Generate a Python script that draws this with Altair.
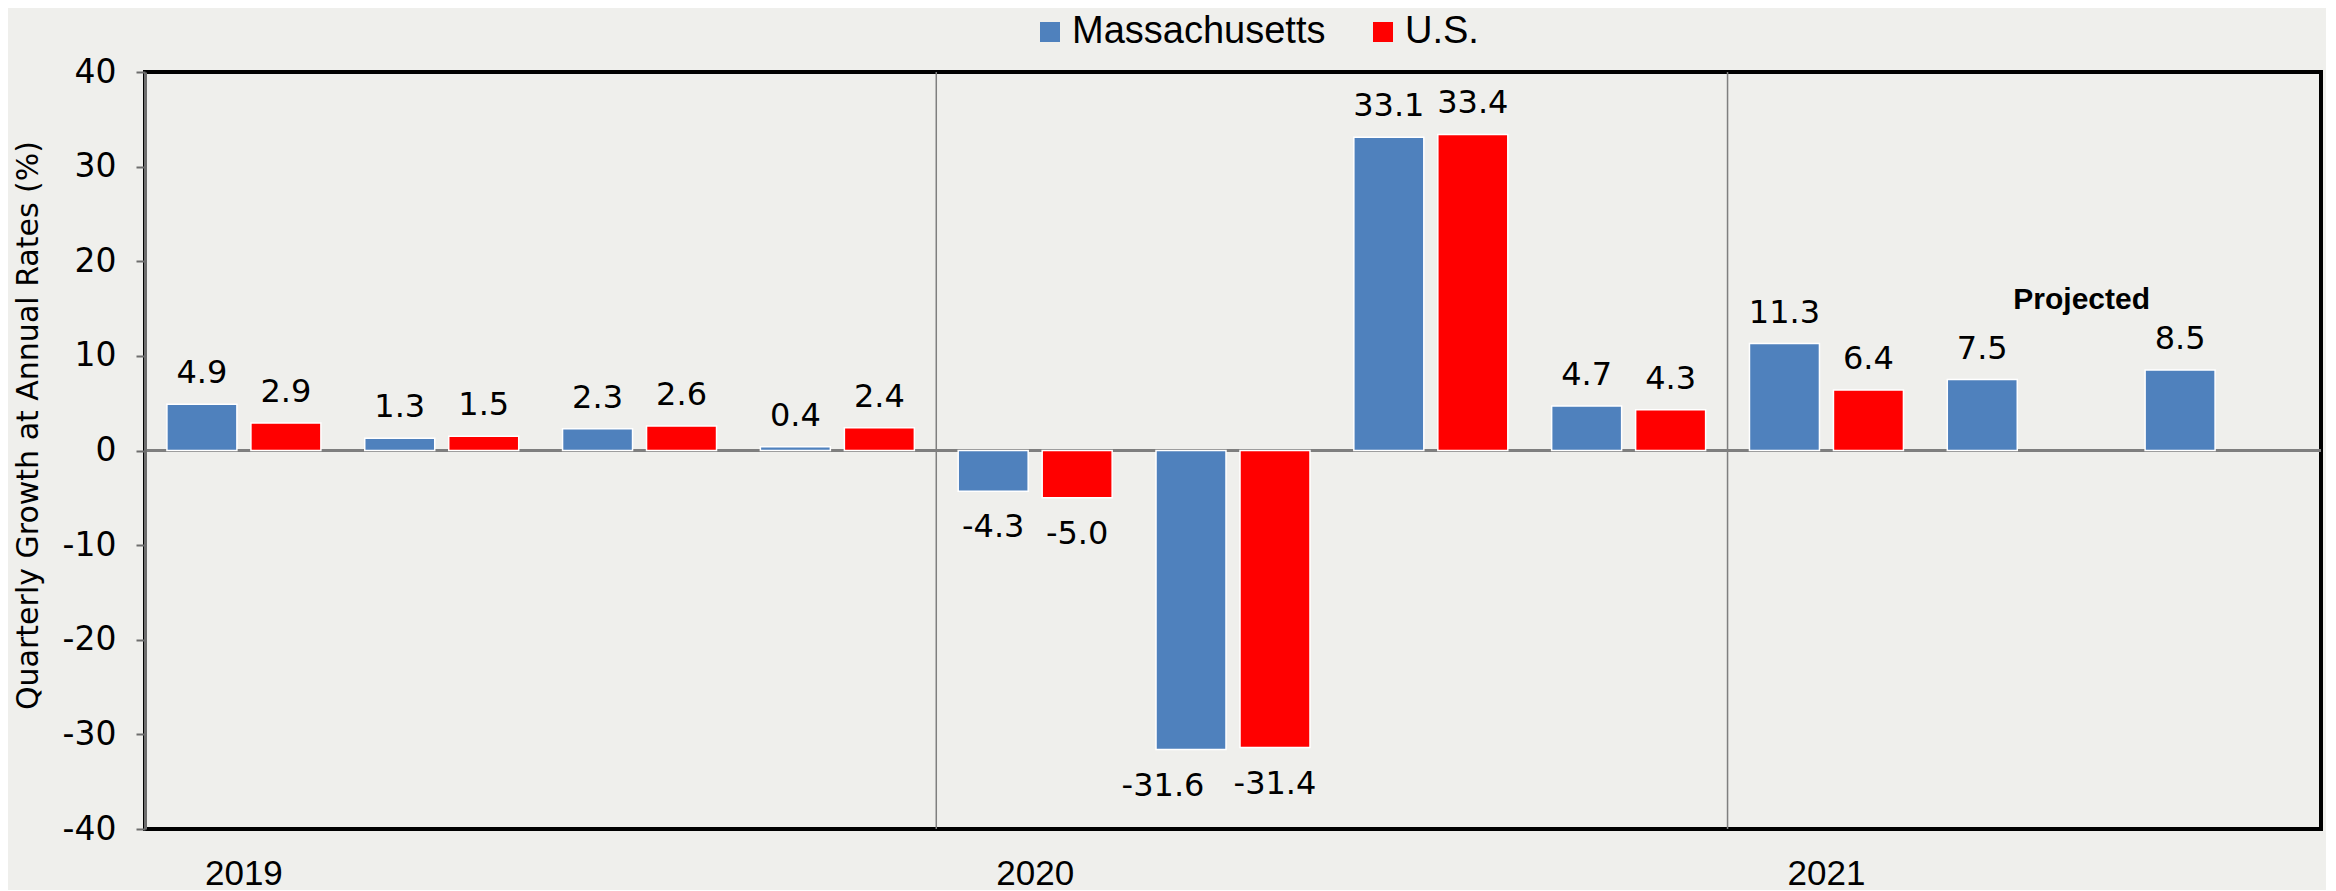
import altair as alt
import pandas as pd

# ---- data ----
quarters = ["2019Q1", "2019Q2", "2019Q3", "2019Q4",
            "2020Q1", "2020Q2", "2020Q3", "2020Q4",
            "2021Q1", "2021Q2", "2021Q3"]
ma_growth = [4.9, 1.3, 2.3, 0.4, -4.3, -31.6, 33.1, 4.7, 11.3, 7.5, 8.5]
us_growth = [2.9, 1.5, 2.6, 2.4, -5.0, -31.4, 33.4, 4.3, 6.4, None, None]
series = ["Massachusetts", "U.S."]
colors = ["#4F81BD", "#FF0000"]
year_labels = {"2019Q1": "2019", "2020Q1": "2020", "2021Q1": "2021"}
year_breaks = ["2020Q1", "2021Q1"]
y_ticks = [-40, -30, -20, -10, 0, 10, 20, 30, 40]
note_quarter = ["2021Q2"]
note_value = [15.0]
note_text = ["Projected"]

rows = []
for q, v in zip(quarters, ma_growth):
    rows.append({"quarter": q, "series": series[0], "value": v})
for q, v in zip(quarters, us_growth):
    if v is not None:
        rows.append({"quarter": q, "series": series[1], "value": v})
df = pd.DataFrame(rows)
df["label"] = df["value"].map(lambda v: f"{v:.1f}")

breaks_df = pd.DataFrame({"quarter": year_breaks})
note_df = pd.DataFrame({"quarter": note_quarter, "value": note_value, "text": note_text})

label_expr = " : ".join(
    [f"datum.value == '{k}' ? '{v}'" for k, v in year_labels.items()]
) + " : ''"

x_scale = alt.Scale(domain=quarters, paddingInner=0, paddingOuter=0)
y_scale = alt.Scale(domain=[-40, 40], nice=False, zero=False)
off_scale = alt.Scale(domain=series, paddingInner=0.1667, paddingOuter=0.261)

x_enc = alt.X(
    "quarter:N", scale=x_scale, sort=quarters,
    axis=alt.Axis(title=None, labelExpr=label_expr, ticks=False, domain=False,
                  bandPosition=0.5,
                  labelAngle=0, labelAlign="center", labelFont="Liberation Sans",
                  labelFontSize=35, labelColor="#000000", labelPadding=27,
                  labelBaseline="top", labelOverlap=False),
)
y_enc = alt.Y(
    "value:Q", scale=y_scale,
    axis=alt.Axis(values=y_ticks, title="Quarterly Growth at Annual Rates (%)",
                  grid=False, domainColor="#6d6d6d", domainWidth=3,
                  tickColor="#6d6d6d", tickWidth=2, tickSize=9,
                  labelFont="DejaVu Sans", labelFontSize=33, labelColor="#000000",
                  labelPadding=20, labelExpr="'' + datum.value",
                  titleFont="DejaVu Sans", titleFontSize=30, titleFontWeight="normal",
                  titleColor="#000000", titleX=-117, titleY=353, titleAngle=270,
                  titleAlign="center", titleBaseline="middle", zindex=1),
)
off_enc = alt.XOffset("series:N", scale=off_scale, sort=series)
x_plain = alt.X("quarter:N", scale=x_scale, sort=quarters)
y_plain = alt.Y("value:Q", scale=y_scale)

base = alt.Chart(df)

zero_line = base.mark_rule(color="#7f7f7f", strokeWidth=2).encode(y=alt.datum(0))

separators = alt.Chart(breaks_df).mark_rule(color="#7f7f7f", strokeWidth=1.5).encode(
    x=alt.X("quarter:N", scale=x_scale, sort=quarters, bandPosition=0)
)

bars = base.mark_bar(stroke="white", strokeWidth=1.5).encode(
    x=x_enc,
    xOffset=off_enc,
    y=y_enc,
    color=alt.Color(
        "series:N", scale=alt.Scale(domain=series, range=colors),
        legend=alt.Legend(title=None, orient="none", legendX=886, legendY=-59,
                          direction="horizontal", symbolType="square",
                          symbolSize=400, symbolStrokeWidth=0,
                          labelFont="Liberation Sans", labelFontSize=38,
                          labelColor="#000000", labelOffset=3, columnPadding=38,
                          labelLimit=500),
    ),
)

text_style = dict(font="DejaVu Sans", fontSize=32, color="#000000", baseline="alphabetic")

pos_labels = base.transform_filter("datum.value >= 0").mark_text(
    dy=-21, **text_style
).encode(x=x_plain, xOffset=off_enc, y=y_plain, text="label:N")

neg_labels = base.transform_filter(
    "datum.value < 0 && !(datum.value < -30 && datum.series == 'Massachusetts')"
).mark_text(dy=46, **text_style).encode(x=x_plain, xOffset=off_enc, y=y_plain, text="label:N")

neg_shifted = base.transform_filter(
    "datum.value < -30 && datum.series == 'Massachusetts'"
).mark_text(dy=46, dx=-28, **text_style).encode(x=x_plain, xOffset=off_enc, y=y_plain, text="label:N")

note = alt.Chart(note_df).mark_text(
    baseline="alphabetic", font="Liberation Sans", fontWeight="bold", fontSize=30,
    color="#000000"
).encode(x=alt.X("quarter:N", scale=x_scale, sort=quarters, bandPosition=0.79),
         y=y_plain, text="text:N")

chart = alt.layer(separators, zero_line, bars, pos_labels, neg_labels, neg_shifted, note).properties(
    width=2176, height=757,
    padding={"left": 137, "top": 64, "right": 5, "bottom": 61},
    autosize=alt.AutoSizeParams(type="none"),
    background="#efefec",
).configure_view(stroke="#000000", strokeWidth=4)

chart.save("out.html", embed_options={"renderer": "svg", "actions": False})
